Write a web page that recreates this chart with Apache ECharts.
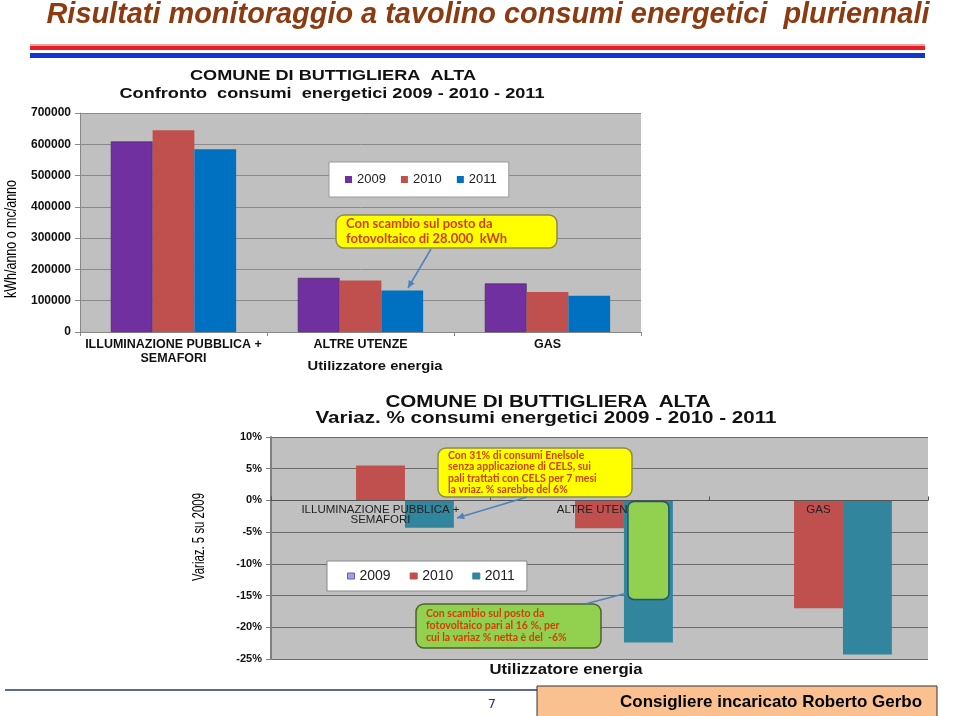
<!DOCTYPE html>
<html>
<head>
<meta charset="utf-8">
<script src="https://cdn.jsdelivr.net/npm/echarts@6/dist/echarts.min.js"></script>
<style>
  html, body { margin: 0; padding: 0; background: #fff; }
  #chart { width: 960px; height: 716px; }
</style>
</head>
<body>
<div id="chart"></div>
<script>
// categorie e anni
const categorie = ['ILLUMINAZIONE PUBBLICA +\nSEMAFORI', 'ALTRE UTENZE', 'GAS']
const anni = ['2009', '2010', '2011']

// consumi kWh/anno o mc/anno
const consumi2009 = [609000, 173000, 155000]
const consumi2010 = [645000, 165000, 128000]
const consumi2011 = [584000, 133000, 116000]

// variazione % su 2009
const variaz2009 = [0, 0, 0]
const variaz2010 = [5.5, -4.4, -17.0]
const variaz2011 = [-4.3, -22.4, -24.3]

// quota scambio sul posto fotovoltaico (ALTRE UTENZE, 2011)
const fotovoltaico = [[1, -15.6]]

const varMin = -25
const varMax = 10

const coloriTop = ['#7030A0', '#C0504D', '#0070C0']
const coloriBot = ['#A0A0E8', '#C0504D', '#31859C']

const FONT = "'Liberation Sans', Arial, sans-serif"
const NOTE = "Lato, 'Open Sans', sans-serif"

// misura il testo per comprimerlo alla larghezza voluta (font "narrow")
const ctx = document.createElement('canvas').getContext('2d')
function larghezza (t, font) {
  ctx.font = font
  return ctx.measureText(t).width
}

function testo (t, x, y, size, w, opts) {
  opts = opts || {}
  let style = Object.assign({
    text: t, x: 0, y: 0, fontSize: size, fontFamily: FONT, fontWeight: 'bold',
    fontStyle: 'normal', fill: '#111', align: 'center', verticalAlign: 'middle'
  }, opts.style || {})
  let sx = 1
  if (w) {
    let m = larghezza(t, style.fontStyle + ' ' + style.fontWeight + ' ' + size + 'px ' + style.fontFamily)
    sx = w / m
  }
  return { type: 'text', z: 20, x: x, y: y, rotation: opts.rotation || 0, scaleX: sx, style: style }
}

function freccia (x1, y1, x2, y2, punta) {
  let a = Math.atan2(y2 - y1, x2 - x1)
  let s = 8
  let els = [{
    type: 'line', z: 20,
    shape: { x1: x1, y1: y1, x2: x2, y2: y2 },
    style: { stroke: '#4F81BD', lineWidth: 1.5 }
  }]
  if (punta) {
    els.push({
      type: 'polygon', z: 20,
      shape: { points: [[x2, y2],
        [x2 - s * Math.cos(a - 0.45), y2 - s * Math.sin(a - 0.45)],
        [x2 - s * Math.cos(a + 0.45), y2 - s * Math.sin(a + 0.45)]] },
      style: { fill: '#4F81BD' }
    })
  }
  return els
}

function nota (x, y, w, h, fill, stroke, righe, size, lh) {
  return [
    { type: 'rect', z: 19, shape: { x: x, y: y, width: w, height: h, r: 8 },
      style: { fill: fill, stroke: stroke, lineWidth: 1.5 } },
    { type: 'text', z: 20,
      style: { text: righe, x: x + 10, y: y + h / 2, fontSize: size, lineHeight: lh,
        fontFamily: NOTE, fontWeight: 'bold', fill: '#D2400A', align: 'left', verticalAlign: 'middle' } }
  ]
}

let graphic = [
  // titolo diapositiva
  testo('Risultati monitoraggio a tavolino consumi energetici  pluriennali', 488, 15, 29, 883,
    { style: { fontStyle: 'italic', fill: '#8C3A10' } }),
  { type: 'rect', shape: { x: 30, y: 44, width: 895, height: 2 }, style: { fill: '#F6A0A0' } },
  { type: 'rect', shape: { x: 30, y: 46, width: 895, height: 4 }, style: { fill: '#E31E24' } },
  { type: 'rect', shape: { x: 30, y: 53, width: 895, height: 5 }, style: { fill: '#1038D0' } },
  // grafico consumi
  testo('COMUNE DI BUTTIGLIERA  ALTA', 333, 76, 15, 286),
  testo('Confronto  consumi  energetici 2009 - 2010 - 2011', 332, 94, 15, 425),
  testo('kWh/anno o mc/anno', 12, 239, 16, 118,
    { rotation: Math.PI / 2, style: { fontWeight: 'normal', fill: '#000' } }),
  testo('Utilizzatore energia', 375, 366, 13, 135),
  // grafico variazioni
  testo('COMUNE DI BUTTIGLIERA  ALTA', 548, 403, 16, 325),
  testo('Variaz. % consumi energetici 2009 - 2010 - 2011', 546, 419, 16, 461),
  testo('Variaz. 5 su 2009', 199, 537, 17, 88,
    { rotation: Math.PI / 2, style: { fontWeight: 'normal', fill: '#000' } }),
  testo('Utilizzatore energia', 566, 670, 14, 153),
  // piè di pagina
  { type: 'rect', shape: { x: 5, y: 689, width: 532, height: 2 }, style: { fill: '#5A6A9A' } },
  testo('7', 492, 705, 13, 0, { style: { fontWeight: 'normal', fill: '#2E3092', fontFamily: "'DejaVu Sans', sans-serif" } }),
  { type: 'rect', shape: { x: 537, y: 686, width: 400, height: 31 },
    style: { fill: '#FAC090', stroke: '#333', lineWidth: 1 } },
  testo('Consigliere incaricato Roberto Gerbo', 771, 702, 17, 302, { style: { fill: '#000' } })
]

graphic = graphic
  .concat(nota(336, 215, 221, 33, '#FFFF00', '#8A8A50',
    'Con scambio sul posto da\nfotovoltaico di 28.000  kWh', 13, 15))
  .concat(freccia(431, 249, 408, 288, true))
  .concat(nota(438, 448, 194, 49, '#FFFF00', '#8A8A50',
    'Con 31% di consumi Enelsole\nsenza applicazione di CELS, sui\npali trattati con CELS per 7 mesi\nla vriaz. % sarebbe del 6%', 10.5, 11.5))
  .concat(freccia(527, 497, 457, 518, true))
  .concat(nota(416, 604, 185, 44, '#92D050', '#4F6228',
    'Con scambio sul posto da\nfotovoltaico pari al 16 %, per\ncui la variaz % netta è del  -6%', 10.5, 12))
  .concat(freccia(585, 604, 627, 593, false))

// altezza della griglia inferiore, per portare l'asse delle categorie sullo 0%
const grid2 = { left: 271, right: 32, top: 437, bottom: 57 }
const grid2H = 716 - grid2.top - grid2.bottom
const offsetZero = -grid2H * (0 - varMin) / (varMax - varMin)

let chart = echarts.init(document.getElementById('chart'))
chart.setOption({
  backgroundColor: '#fff',
  animation: false,
  graphic: graphic,
  grid: [
    { left: 80, right: 319, top: 113, bottom: 384, show: true, backgroundColor: '#C0C0C0',
      borderWidth: 0, outerBoundsMode: 'none' },
    Object.assign({ show: true, backgroundColor: '#C0C0C0', borderWidth: 0, outerBoundsMode: 'none' }, grid2)
  ],
  legend: [
    {
      left: 329, top: 162, orient: 'horizontal',
      backgroundColor: '#fff', borderColor: '#999', borderWidth: 1,
      padding: [11, 12, 11, 16], itemWidth: 7, itemHeight: 7, itemGap: 15,
      textStyle: { fontSize: 13, fontFamily: FONT, color: '#222' },
      data: anni.map((a, i) => ({ name: a, icon: 'rect', itemStyle: { color: coloriTop[i], borderWidth: 0 } }))
    },
    {
      left: 327, top: 561, orient: 'horizontal',
      backgroundColor: '#fff', borderColor: '#888', borderWidth: 1,
      padding: [8, 12, 8, 20], itemWidth: 7, itemHeight: 6, itemGap: 19,
      textStyle: { fontSize: 14, fontFamily: FONT, color: '#222' },
      data: anni.map((a, i) => ({ name: a, icon: 'rect',
        itemStyle: { color: coloriBot[i], borderColor: i === 0 ? '#6060B0' : coloriBot[i], borderWidth: 1 } }))
    }
  ],
  xAxis: [
    {
      type: 'category', gridIndex: 0, data: categorie,
      axisLine: { lineStyle: { color: '#888' } },
      axisTick: { show: true, length: 4, lineStyle: { color: '#888' } },
      axisLabel: { margin: 6, fontSize: 12.5, fontWeight: 'bold', fontFamily: FONT,
        color: '#111', lineHeight: 14, interval: 0 }
    },
    {
      // etichette sopra le barre ma sotto il riquadro verde
      type: 'category', gridIndex: 1, data: categorie, position: 'bottom', offset: offsetZero, z: 4,
      axisLine: { onZero: false, lineStyle: { color: '#555' } },
      axisTick: { show: true, inside: true, length: 4, lineStyle: { color: '#555' } },
      axisLabel: { margin: 4, fontSize: 11.5, fontFamily: FONT,
        color: '#222', lineHeight: 10, interval: 0 }
    }
  ],
  yAxis: [
    {
      type: 'value', gridIndex: 0, min: 0, max: 700000, interval: 100000,
      axisLine: { show: true, lineStyle: { color: '#888' } },
      axisTick: { show: true, length: 5, lineStyle: { color: '#888' } },
      splitLine: { lineStyle: { color: '#8A8A8A', width: 1 } },
      axisLabel: { margin: 9, fontSize: 12, fontWeight: 'bold', fontFamily: FONT, color: '#111',
        formatter: v => String(v) }
    },
    {
      type: 'value', gridIndex: 1, min: varMin, max: varMax, interval: 5,
      axisLine: { show: true, lineStyle: { color: '#808080', width: 2 } },
      axisTick: { show: true, length: 5, lineStyle: { color: '#808080' } },
      splitLine: { lineStyle: { color: '#6A6A6A', width: 1.2 } },
      axisLabel: { margin: 9, fontSize: 11, fontWeight: 'bold', fontFamily: FONT, color: '#111',
        formatter: '{value}%' }
    }
  ],
  series: [
    { name: '2009', type: 'bar', xAxisIndex: 0, yAxisIndex: 0, data: consumi2009,
      barGap: 0, barCategoryGap: '33%', itemStyle: { color: coloriTop[0], borderColor: '#3E1A5A', borderWidth: 0.6 } },
    { name: '2010', type: 'bar', xAxisIndex: 0, yAxisIndex: 0, data: consumi2010,
      itemStyle: { color: coloriTop[1] } },
    { name: '2011', type: 'bar', xAxisIndex: 0, yAxisIndex: 0, data: consumi2011,
      itemStyle: { color: coloriTop[2] } },
    { name: '2009', type: 'bar', xAxisIndex: 1, yAxisIndex: 1, data: variaz2009,
      barGap: 0, barCategoryGap: '33%', itemStyle: { color: coloriBot[0] } },
    { name: '2010', type: 'bar', xAxisIndex: 1, yAxisIndex: 1, data: variaz2010,
      itemStyle: { color: coloriBot[1] } },
    { name: '2011', type: 'bar', xAxisIndex: 1, yAxisIndex: 1, data: variaz2011,
      itemStyle: { color: coloriBot[2] } },
    {
      // riquadro verde sovrapposto alla barra 2011 di ALTRE UTENZE
      name: 'fotovoltaico', type: 'custom', xAxisIndex: 1, yAxisIndex: 1, z: 6,
      data: fotovoltaico,
      renderItem: function (params, api) {
        let banda = api.size([1, 0])[0]
        let barW = banda * (1 - 0.33) / 3
        let zero = api.coord([api.value(0), 0])
        let fine = api.coord([api.value(0), api.value(1)])
        let x = zero[0] + barW / 2
        return {
          type: 'rect',
          shape: { x: x + 4, y: zero[1] + 1, width: barW - 8, height: fine[1] - zero[1] - 1, r: 6 },
          style: { fill: '#92D050', stroke: '#215867', lineWidth: 1.5 }
        }
      }
    }
  ]
})
</script>
</body>
</html>
